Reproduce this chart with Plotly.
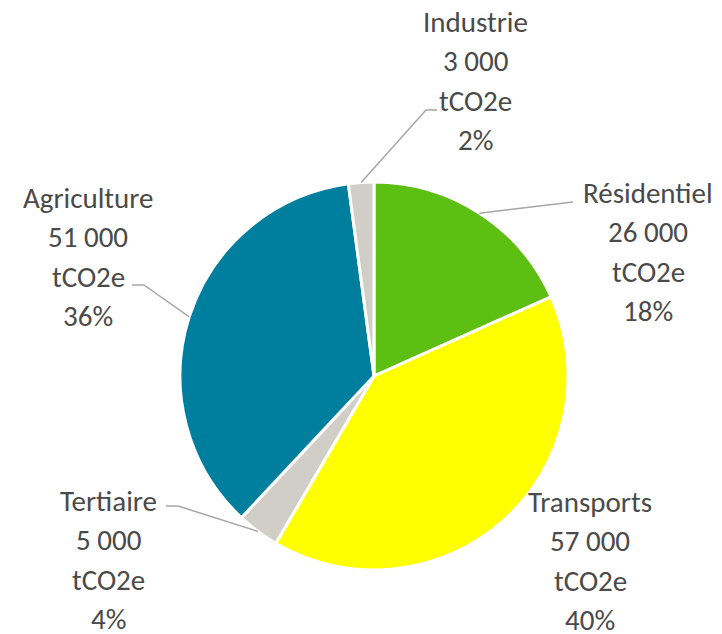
import math
import plotly.graph_objects as go

categories = ["Résidentiel", "Transports", "Tertiaire", "Agriculture", "Industrie"]
values = [26000, 57000, 5000, 51000, 3000]
unit = "tCO2e"
colors = ["#5EBF13", "#FFFF00", "#D0CEC6", "#007E9D", "#D0CEC6"]

W, H = 722, 634
OFF = 8  # page body margin offset
CX, CY, R = 374, 376, 194

# label layout (screen pixels): centre x, first-line y
label_pos = {
    "Résidentiel": (648, 193),
    "Transports": (590, 502),
    "Tertiaire": (108, 501),
    "Agriculture": (88, 198),
    "Industrie": (475, 22),
}
LINE_STEP = 39.3
# leader line layout: points after the slice edge point (screen pixels)
leader = {
    "Résidentiel": [(573, 202)],
    "Tertiaire": [(178, 506), (166, 506)],
    "Agriculture": [(144, 285), (132, 285)],
    "Industrie": [(426, 110), (437, 110)],
}

def fmt(v):
    return f"{v:,}".replace(",", " ")

def px(x):
    return (x - OFF) / W

def py(y):
    return 1 - (y - OFF) / H

fig = go.Figure(go.Pie(
    labels=categories, values=values, sort=False, direction="clockwise", rotation=0,
    marker=dict(colors=colors, line=dict(color="white", width=3)),
    textinfo="none", hoverinfo="label+value+percent", showlegend=False,
    domain=dict(x=[px(CX - R), px(CX + R)], y=[py(CY + R), py(CY - R)]),
))

total = sum(values)
cum = 0
annotations = []
shapes = []
FONT = dict(family="Carlito, Lato, 'Open Sans', sans-serif", size=29, color="#4A4A4A")
for cat, v in zip(categories, values):
    mid = (cum + v / 2) / total * 2 * math.pi
    cum += v
    ex, ey = CX + R * math.sin(mid), CY - R * math.cos(mid)
    if cat in leader:
        pts = [(ex, ey)] + leader[cat]
        for (x0, y0), (x1, y1) in zip(pts[:-1], pts[1:]):
            shapes.append(dict(type="line", xref="paper", yref="paper",
                               x0=px(x0), y0=py(y0), x1=px(x1), y1=py(y1),
                               line=dict(color="#A6A6A6", width=1.5)))
    lines = [cat, fmt(v), unit, f"{round(v / total * 100)}%"]
    lx, ly = label_pos[cat]
    for i, t in enumerate(lines):
        annotations.append(dict(text=t, x=px(lx), y=py(ly + i * LINE_STEP), xref="paper", yref="paper",
                                xanchor="center", yanchor="middle", showarrow=False, font=FONT))

fig.update_layout(
    width=W, height=H, margin=dict(l=0, r=0, t=0, b=0),
    paper_bgcolor="white", plot_bgcolor="white",
    annotations=annotations, shapes=shapes,
)
fig.write_html("out.html")
